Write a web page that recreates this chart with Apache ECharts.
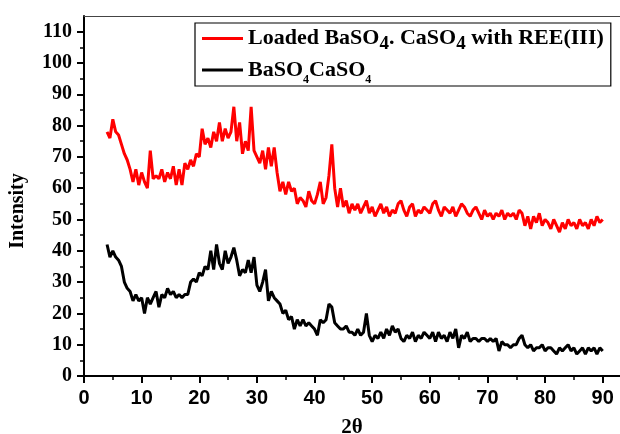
<!DOCTYPE html>
<html>
<head>
<meta charset="utf-8">
<script src="https://cdn.jsdelivr.net/npm/echarts@6/dist/echarts.min.js"></script>
<style>html,body{margin:0;padding:0;background:#fff;}#c{width:620px;height:434px;}</style>
</head>
<body>
<div id="c"></div>
<script>
const twoTheta = [
4,4.5,5,5.5,6,6.5,7,7.5,8,8.5,
9,9.5,10,10.5,11,11.5,12,12.5,13,13.5,
14,14.5,15,15.5,16,16.5,17,17.5,18,18.5,
19,19.5,20,20.5,21,21.5,22,22.5,23,23.5,
24,24.5,25,25.5,26,26.5,27,27.5,28,28.5,
29,29.5,30,30.5,31,31.5,32,32.5,33,33.5,
34,34.5,35,35.5,36,36.5,37,37.5,38,38.5,
39,39.5,40,40.5,41,41.5,42,42.5,43,43.5,
44,44.5,45,45.5,46,46.5,47,47.5,48,48.5,
49,49.5,50,50.5,51,51.5,52,52.5,53,53.5,
54,54.5,55,55.5,56,56.5,57,57.5,58,58.5,
59,59.5,60,60.5,61,61.5,62,62.5,63,63.5,
64,64.5,65,65.5,66,66.5,67,67.5,68,68.5,
69,69.5,70,70.5,71,71.5,72,72.5,73,73.5,
74,74.5,75,75.5,76,76.5,77,77.5,78,78.5,
79,79.5,80,80.5,81,81.5,82,82.5,83,83.5,
84,84.5,85,85.5,86,86.5,87,87.5,88,88.5,
89,89.5,90];

const loadedREE = [
78,76,82,78,77,74,71,69,66,62,
66,61,65,62,60,72,63,64,63,66,
62,65,63,67,61,66,61,68,66,69,
67,71,70,79,74,76,73,78,75,81,
75,79,76,78,86,75,81,71,75,72,
86,72,70,68,72,66,73,67,73,65,
59,62,58,62,59,60,55,57,56,54,
59,56,55,58,62,55,57,64,74,60,
54,60,54,56,52,55,53,55,52,54,
56,52,54,51,53,55,52,54,51,53,
52,55,56,53,51,54,55,51,53,52,
54,53,52,55,56,53,51,54,53,52,
54,51,53,55,54,52,51,53,54,52,
50,53,51,52,50,52,51,53,50,52,
51,52,50,53,52,48,51,47,51,49,
52,48,50,49,47,50,48,46,49,47,
50,48,49,47,50,48,49,47,50,48,
51,49,50];

const baso4caso4 = [
42,38,40,38,37,35,30,28,27,24,
26,24,25,20,25,23,25,27,22,26,
25,28,26,27,25,26,25,26,26,30,
31,30,33,32,35,34,40,34,42,36,
34,40,36,38,41,37,32,34,33,37,
33,38,29,27,30,34,24,27,25,24,
23,20,21,18,19,15,18,16,18,16,
17,16,15,13,18,17,18,23,22,17,
16,15,15,16,14,14,13,15,13,14,
20,13,11,13,12,14,12,15,13,16,
14,15,12,11,13,12,14,11,13,12,
14,13,12,14,11,14,12,13,11,14,
12,15,9,13,12,14,11,12,12,11,
12,12,11,12,11,12,8,11,10,10,
9,10,10,12,13,10,9,10,8,9,
9,10,8,9,9,8,7,9,8,9,
10,8,9,7,8,9,7,9,8,9,
7,9,8];

const xMajorTicks = [0,10,20,30,40,50,60,70,80,90];
const xMinorTicks = [5,15,25,35,45,55,65,75,85];
const yMajorTicks = [0,10,20,30,40,50,60,70,80,90,100,110];
const yMinorTicks = [5,15,25,35,45,55,65,75,85,95,105];

const seriesNames = ['Loaded BaSO4. CaSO4 with REE(III)', 'BaSO4CaSO4'];
const legendRich = {
  [seriesNames[0]]: '{a|Loaded BaSO}{s|4}{a|. CaSO}{s|4}{a| with REE(III)}',
  [seriesNames[1]]: '{a|BaSO}{t|4}{a|CaSO}{t|4}'
};

const serif = '"Liberation Serif", "Times New Roman", serif';
const sans = '"Liberation Sans", Arial, sans-serif';

const chart = echarts.init(document.getElementById('c'), null, {renderer: 'canvas'});
const pairs = (ys) => twoTheta.map((x, i) => [x, ys[i]]);

chart.setOption({
  animation: false,
  backgroundColor: '#fff',
  grid: {left: 84, right: 0, top: 16, bottom: 58, containLabel: false, outerBoundsMode: 'none'},
  legend: {
    orient: 'vertical',
    left: 195,
    top: 23,
    padding: [0, 7, 0, 7],
    itemGap: 0,
    itemWidth: 41,
    itemHeight: 3,
    icon: 'rect',
    borderColor: '#000',
    borderWidth: 1.2,
    backgroundColor: '#fff',
    data: seriesNames,
    formatter: (n) => legendRich[n],
    textStyle: {
      rich: {
        a: {fontFamily: serif, fontWeight: 'bold', fontSize: 22, lineHeight: 24, color: '#000'},
        s: {fontFamily: serif, fontWeight: 'bold', fontSize: 19, lineHeight: 20, padding: [12, 0, 0, 0], color: '#000'},
        t: {fontFamily: serif, fontWeight: 'bold', fontSize: 12, lineHeight: 12, padding: [20, 0, 0, 0], color: '#000'}
      }
    }
  },
  xAxis: [
    {
      type: 'value', min: 0, max: 93, interval: 10, position: 'bottom',
      name: '2θ', nameLocation: 'middle', nameGap: 41,
      nameTextStyle: {fontFamily: serif, fontWeight: 'bold', fontSize: 21, color: '#000'},
      axisLine: {show: true, onZero: false, lineStyle: {color: '#000', width: 2}},
      axisTick: {show: true, inside: false, length: 7, lineStyle: {color: '#000', width: 2}, customValues: xMajorTicks},
      axisLabel: {show: true, margin: 12, fontFamily: sans, fontWeight: 'bold', fontSize: 20, color: '#000', customValues: xMajorTicks},
      splitLine: {show: false}
    },
    {
      type: 'value', min: 0, max: 93, position: 'bottom',
      axisLine: {show: false, onZero: false},
      axisTick: {show: true, inside: false, length: 4, lineStyle: {color: '#000', width: 1.5}, customValues: xMinorTicks},
      axisLabel: {show: false},
      splitLine: {show: false}
    },
    {
      type: 'value', min: 0, max: 93, position: 'top',
      axisLine: {show: true, onZero: false, lineStyle: {color: '#444', width: 1}},
      axisTick: {show: false},
      axisLabel: {show: false},
      splitLine: {show: false}
    }
  ],
  yAxis: [
    {
      type: 'value', min: 0, max: 115, interval: 10, position: 'left',
      name: 'Intensity', nameLocation: 'middle', nameGap: 56, nameRotate: 90,
      nameTextStyle: {fontFamily: serif, fontWeight: 'bold', fontSize: 20, color: '#000', padding: [0, 30, 0, 0]},
      axisLine: {show: true, onZero: false, lineStyle: {color: '#000', width: 2}},
      axisTick: {show: true, inside: false, length: 7, lineStyle: {color: '#000', width: 2}, customValues: yMajorTicks},
      axisLabel: {show: true, margin: 12, fontFamily: serif, fontWeight: 'bold', fontSize: 20, color: '#000', customValues: yMajorTicks},
      splitLine: {show: false}
    },
    {
      type: 'value', min: 0, max: 115, position: 'left',
      axisLine: {show: false, onZero: false},
      axisTick: {show: true, inside: false, length: 4, lineStyle: {color: '#000', width: 1.5}, customValues: yMinorTicks},
      axisLabel: {show: false},
      splitLine: {show: false}
    }
  ],
  series: [
    {
      name: seriesNames[0], type: 'line', xAxisIndex: 0, yAxisIndex: 0,
      data: pairs(loadedREE), showSymbol: false, symbol: 'none',
      color: '#ff0000', lineStyle: {color: '#ff0000', width: 3}
    },
    {
      name: seriesNames[1], type: 'line', xAxisIndex: 0, yAxisIndex: 0,
      data: pairs(baso4caso4), showSymbol: false, symbol: 'none',
      color: '#000000', lineStyle: {color: '#000000', width: 3}
    }
  ]
});
</script>
</body>
</html>
